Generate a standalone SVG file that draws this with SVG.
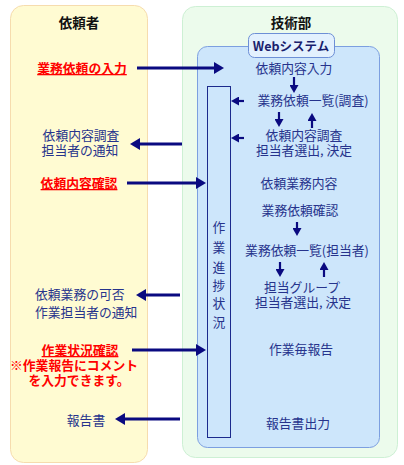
<svg xmlns="http://www.w3.org/2000/svg" width="404" height="465" viewBox="0 0 404 465">
<style>
.t{font-family:"Noto Sans CJK JP","Noto Sans",sans-serif;font-size:12.8px;fill:#26338c;text-anchor:middle}
.r{fill:#ff0000;font-weight:bold}
.u{text-decoration:underline}
.h{font-weight:bold;fill:#111;font-size:13.5px}
.ar{stroke:#0a0a80;stroke-width:3;fill:none}
.sa{stroke:#0a0a80;stroke-width:2.2;fill:none}
</style>
<defs>
<marker id="big" viewBox="0 0 10 12" refX="4" refY="6" markerWidth="10" markerHeight="12" markerUnits="userSpaceOnUse" orient="auto"><path d="M0,0 L10,6 L0,12 Z" fill="#0a0a80"/></marker>
<marker id="sm" viewBox="0 0 8 9" refX="3" refY="4.5" markerWidth="8" markerHeight="9" markerUnits="userSpaceOnUse" orient="auto"><path d="M0,0 L8,4.5 L0,9 Z" fill="#0a0a80"/></marker>
</defs>
<g id="requester">
<rect x="10.5" y="5.5" width="137" height="457" rx="13" fill="#fffbd2" stroke="#f6dcae"/>
<text class="t h" x="79" y="28">依頼者</text>
</g>
<g id="tech">
<rect x="182.5" y="6.5" width="215" height="451" rx="13" fill="#ecfbec" stroke="#cdf0d4"/>
<text class="t h" x="291" y="28">技術部</text>
</g>
<g id="web">
<rect x="197.5" y="46.5" width="182" height="401" rx="10" fill="#cde6fb" stroke="#7c9fe0"/>
<rect x="248.5" y="33.5" width="86" height="24" rx="6" fill="#e3f1fe" stroke="#6d8fd6"/>
<text class="t" x="291" y="51" style="font-weight:bold;fill:#1a1f6e;font-size:12.5px">Webシステム</text>
</g>
<g id="bar">
<rect x="207.5" y="86.5" width="23" height="351" fill="#cde6fb" stroke="#1c2a8c"/>
<text class="t" x="219" y="232">作</text>
<text class="t" x="219" y="252">業</text>
<text class="t" x="219" y="272">進</text>
<text class="t" x="219" y="290">捗</text>
<text class="t" x="219" y="308">状</text>
<text class="t" x="219" y="327">況</text>
</g>
<g id="left-texts">
<text class="t r u" x="82" y="73">業務依頼の入力</text>
<text class="t"><tspan x="81" y="140">依頼内容調査</tspan><tspan x="80" y="155">担当者の通知</tspan></text>
<text class="t r u" x="79" y="188">依頼内容確認</text>
<text class="t" style="text-anchor:start"><tspan x="35" y="299">依頼業務の可否</tspan><tspan x="35" y="317">作業担当者の通知</tspan></text>
<text class="t r"><tspan class="u" x="80" y="355">作業状況確認</tspan><tspan x="74" y="370">※作業報告にコメント</tspan><tspan x="79" y="385">を入力できます。</tspan></text>
<text class="t" x="86" y="425">報告書</text>
</g>
<g id="right-texts">
<text class="t" x="294" y="73">依頼内容入力</text>
<text class="t" x="313" y="105">業務依頼一覧(調査)</text>
<text class="t"><tspan x="304" y="140">依頼内容調査</tspan><tspan x="304" y="155">担当者選出, 決定</tspan></text>
<text class="t" x="299" y="188">依頼業務内容</text>
<text class="t" x="300" y="215">業務依頼確認</text>
<text class="t" x="307" y="255">業務依頼一覧(担当者)</text>
<text class="t"><tspan x="302" y="292">担当グループ</tspan><tspan x="303" y="307">担当者選出, 決定</tspan></text>
<text class="t" x="301" y="354">作業毎報告</text>
<text class="t" x="298" y="428">報告書出力</text>
</g>
<g id="connectors">
<line class="ar" x1="137" y1="68" x2="218" y2="68" marker-end="url(#big)"/>
<line class="ar" x1="182" y1="144" x2="136" y2="144" marker-end="url(#big)"/>
<line class="ar" x1="127" y1="183" x2="200" y2="183" marker-end="url(#big)"/>
<line class="ar" x1="180" y1="295" x2="142" y2="295" marker-end="url(#big)"/>
<line class="ar" x1="132" y1="350" x2="200" y2="350" marker-end="url(#big)"/>
<line class="ar" x1="180" y1="419" x2="121" y2="419" marker-end="url(#big)"/>
<line class="sa" x1="244" y1="101" x2="236" y2="101" marker-end="url(#sm)"/>
<line class="sa" x1="244" y1="138" x2="236" y2="138" marker-end="url(#sm)"/>
<line class="sa" x1="294" y1="77" x2="294" y2="88" marker-end="url(#sm)"/>
<line class="sa" x1="279" y1="112" x2="279" y2="122" marker-end="url(#sm)"/>
<line class="sa" x1="312" y1="128" x2="312" y2="118" marker-end="url(#sm)"/>
<line class="sa" x1="297" y1="222" x2="297" y2="231" marker-end="url(#sm)"/>
<line class="sa" x1="280" y1="262" x2="280" y2="272" marker-end="url(#sm)"/>
<line class="sa" x1="324" y1="277" x2="324" y2="267" marker-end="url(#sm)"/>
</g>
</svg>
